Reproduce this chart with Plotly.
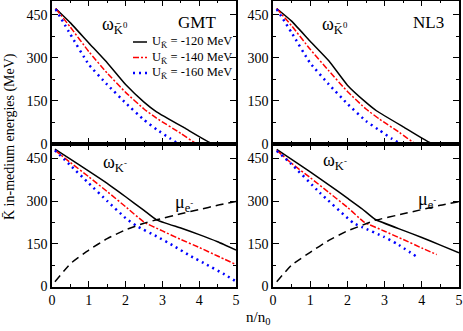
import plotly.graph_objects as go

# densities n/n0 and energies (MeV)
# --- GMT, antikaon K0bar ---
gmt_k0_n1 = [0.1, 0.5, 1.0, 1.5, 2.0, 2.5, 2.84, 3.6, 4.38, 5.0]
gmt_k0_e1 = [472, 422, 352, 283, 207, 146, 112, 56, 0, 0]
gmt_k0_n2 = [0.1, 0.5, 1.0, 1.5, 2.0, 2.5, 2.84, 3.5, 3.95, 5.0]
gmt_k0_e2 = [472, 407, 322, 247, 180, 122, 90, 37, 0, 0]
gmt_k0_n3 = [0.1, 0.5, 1.0, 1.5, 2.0, 2.5, 2.84, 3.2, 3.45, 5.0]
gmt_k0_e3 = [470, 382, 277, 207, 143, 84, 51, 20, 0, 0]

# --- NL3, antikaon K0bar ---
nl3_k0_n1 = [0.1, 0.5, 1.0, 1.5, 2.0, 2.5, 2.79, 3.5, 4.3, 5.0]
nl3_k0_e1 = [472, 428, 358, 290, 205, 145, 115, 60, 0, 0]
nl3_k0_n2 = [0.1, 0.5, 1.0, 1.5, 2.0, 2.5, 2.87, 3.4, 3.85, 5.0]
nl3_k0_e2 = [472, 412, 330, 255, 183, 122, 86, 40, 0, 0]
nl3_k0_n3 = [0.1, 0.5, 1.0, 1.5, 2.0, 2.5, 2.87, 3.2, 3.45, 5.0]
nl3_k0_e3 = [470, 388, 282, 208, 140, 80, 47, 18, 0, 0]

# --- GMT, K- ---
gmt_km_n1 = [0.08, 0.5, 1.0, 1.5, 2.0, 2.5, 2.84, 3.5, 4.0, 4.5, 5.0]
gmt_km_e1 = [482, 447, 405, 362, 315, 267, 234, 205, 182, 157, 128]
gmt_km_n2 = [0.08, 0.5, 1.0, 1.5, 2.0, 2.5, 3.0, 3.5, 4.0, 4.5, 5.0]
gmt_km_e2 = [478, 435, 385, 333, 280, 226, 195, 165, 137, 107, 77]
gmt_km_n3 = [0.08, 0.5, 1.0, 1.5, 2.0, 2.3, 2.84, 3.3, 3.75, 4.2, 4.65, 5.0]
gmt_km_e3 = [478, 425, 362, 300, 240, 212, 176, 143, 108, 77, 45, 18]
gmt_mue_n = [0.08, 0.5, 1.0, 1.5, 2.0, 2.5, 2.84, 3.5, 4.0, 4.5, 5.0]
gmt_mue_e = [17, 80, 128, 168, 199, 222, 234, 255, 270, 285, 298]

# --- NL3, K- ---
nl3_km_n1 = [0.1, 0.5, 1.0, 1.5, 2.0, 2.4, 2.74, 3.5, 4.0, 4.5, 5.0]
nl3_km_e1 = [481, 446, 402, 357, 310, 272, 236, 197, 172, 145, 118]
nl3_km_n2 = [0.1, 0.5, 1.0, 1.5, 2.0, 2.45, 3.0, 3.5, 4.0, 4.4]
nl3_km_e2 = [478, 432, 382, 330, 278, 226, 194, 165, 135, 112]
nl3_km_n3 = [0.1, 0.46, 1.26, 2.16, 2.4, 2.97, 3.33, 3.86]
nl3_km_e3 = [476, 434, 329, 223, 208, 175, 150, 105]
nl3_mue_n = [0.1, 0.5, 1.0, 1.5, 2.0, 2.5, 2.74, 3.5, 4.0, 4.5, 5.0]
nl3_mue_e = [17, 75, 120, 162, 195, 220, 232, 255, 270, 285, 298]

labels = ["U<sub>K̄</sub> = -120 MeV", "U<sub>K̄</sub> = -140 MeV", "U<sub>K̄</sub> = -160 MeV"]

FONT = "Liberation Serif"
black = dict(color="black", width=1.5)
red = dict(color="red", width=1.5, dash="6px,2px,2px,2px")
blue = dict(color="blue", width=2.5, dash="2px,4px")
dashed = dict(color="black", width=1.5, dash="8px,5px")
styles = [black, red, blue]

fig = go.Figure()

def add(x, y, line, ax):
    fig.add_trace(go.Scatter(x=x, y=y, mode="lines", line=dict(shape="spline", smoothing=0.4, **line),
                             xaxis="x" + ax, yaxis="y" + ax, showlegend=False))

# top-left GMT K0bar
add(gmt_k0_n1, gmt_k0_e1, black, "")
add(gmt_k0_n2, gmt_k0_e2, red, "")
add(gmt_k0_n3, gmt_k0_e3, blue, "")
# top-right NL3 K0bar
add(nl3_k0_n1, nl3_k0_e1, black, "2")
add(nl3_k0_n2, nl3_k0_e2, red, "2")
add(nl3_k0_n3, nl3_k0_e3, blue, "2")
# bottom-left GMT K-
add(gmt_km_n1, gmt_km_e1, black, "3")
add(gmt_km_n2, gmt_km_e2, red, "3")
add(gmt_km_n3, gmt_km_e3, blue, "3")
add(gmt_mue_n, gmt_mue_e, dashed, "3")
# bottom-right NL3 K-
add(nl3_km_n1, nl3_km_e1, black, "4")
add(nl3_km_n2, nl3_km_e2, red, "4")
add(nl3_km_n3, nl3_km_e3, blue, "4")
add(nl3_mue_n, nl3_mue_e, dashed, "4")

W, H = 463, 331
xl = [52 / W, 236 / W]
xr = [273 / W, 459 / W]
yt = [(H - 144) / H, (H - 0.5) / H]
yb = [(H - 286.5) / H, (H - 144) / H]

def xax(dom, anchor, labels_on):
    return dict(domain=dom, anchor=anchor, range=[0, 5], dtick=1, showline=True, linecolor="black",
                linewidth=1.5, mirror="ticks", ticks="inside", ticklen=6, tickcolor="black",
                minor=dict(ticks="inside", dtick=0.5, ticklen=3, tickcolor="black"),
                showgrid=False, zeroline=False, showticklabels=labels_on, automargin=False,
                tickfont=dict(family=FONT, size=14, color="black"))

def yax(dom, anchor):
    return dict(domain=dom, anchor=anchor, range=[0, 500], tickvals=[0, 150, 300, 450],
                showline=True, linecolor="black", linewidth=1.5, mirror="ticks", ticks="inside",
                ticklen=6, tickcolor="black", automargin=False,
                minor=dict(ticks="inside", tickvals=[75, 225, 375], ticklen=3, tickcolor="black"),
                showgrid=False, zeroline=False,
                tickfont=dict(family=FONT, size=14, color="black"))

fig.update_layout(
    width=W, height=H, margin=dict(l=0, r=0, t=0, b=0, autoexpand=False),
    paper_bgcolor="white", plot_bgcolor="white",
    font=dict(family=FONT, color="black"),
    xaxis=xax(xl, "y", False), yaxis=yax(yt, "x"),
    xaxis2=xax(xr, "y2", False), yaxis2=yax(yt, "x2"),
    xaxis3=xax(xl, "y3", True), yaxis3=yax(yb, "x3"),
    xaxis4=xax(xr, "y4", True), yaxis4=yax(yb, "x4"),
)

# legend (top-left panel): short line samples plus text
for i, (lab, st) in enumerate(zip(labels, styles)):
    yy = 1 - (42 + 15.5 * i) / H
    fig.add_shape(type="line", xref="paper", yref="paper", x0=133 / W, x1=147 / W, y0=yy, y1=yy,
                  line=dict(color=st["color"], width=st["width"], dash=st.get("dash", "solid")))
    fig.add_annotation(text=lab, x=150 / W, y=yy, xref="paper", yref="paper", showarrow=False,
                       xanchor="left", yanchor="middle", font=dict(family=FONT, size=12.5, color="black"))

ann = [
    dict(text="ω<sub>K̄<sup>0</sup></sub>", x=115, y=25, size=18),
    dict(text="GMT", x=197, y=22, size=17),
    dict(text="ω<sub>K̄<sup>0</sup></sub>", x=335, y=25, size=18),
    dict(text="NL3", x=428, y=23, size=17),
    dict(text="ω<sub>K<sup>-</sup></sub>", x=115, y=163, size=18),
    dict(text="ω<sub>K<sup>-</sup></sub>", x=335, y=161, size=18),
    dict(text="μ<sub>e<sup>-</sup></sub>", x=184, y=203, size=18),
    dict(text="μ<sub>e<sup>-</sup></sub>", x=427, y=200, size=18),
    dict(text="n/n<sub>0</sub>", x=258, y=318, size=15),
]
for a in ann:
    fig.add_annotation(text=a["text"], x=a["x"] / W, y=1 - a["y"] / H, xref="paper", yref="paper",
                       showarrow=False, xanchor="center", yanchor="middle",
                       font=dict(family=FONT, size=a["size"], color="black"))
fig.add_annotation(text="K̄ in-medium energies (MeV)", x=10 / W, y=1 - 137 / H, xref="paper",
                   yref="paper", showarrow=False, textangle=-90, xanchor="center", yanchor="middle",
                   font=dict(family=FONT, size=14, color="black"))

fig.write_html("out.html", config={"displayModeBar": False},
               post_script="document.body.style.margin='0';")
